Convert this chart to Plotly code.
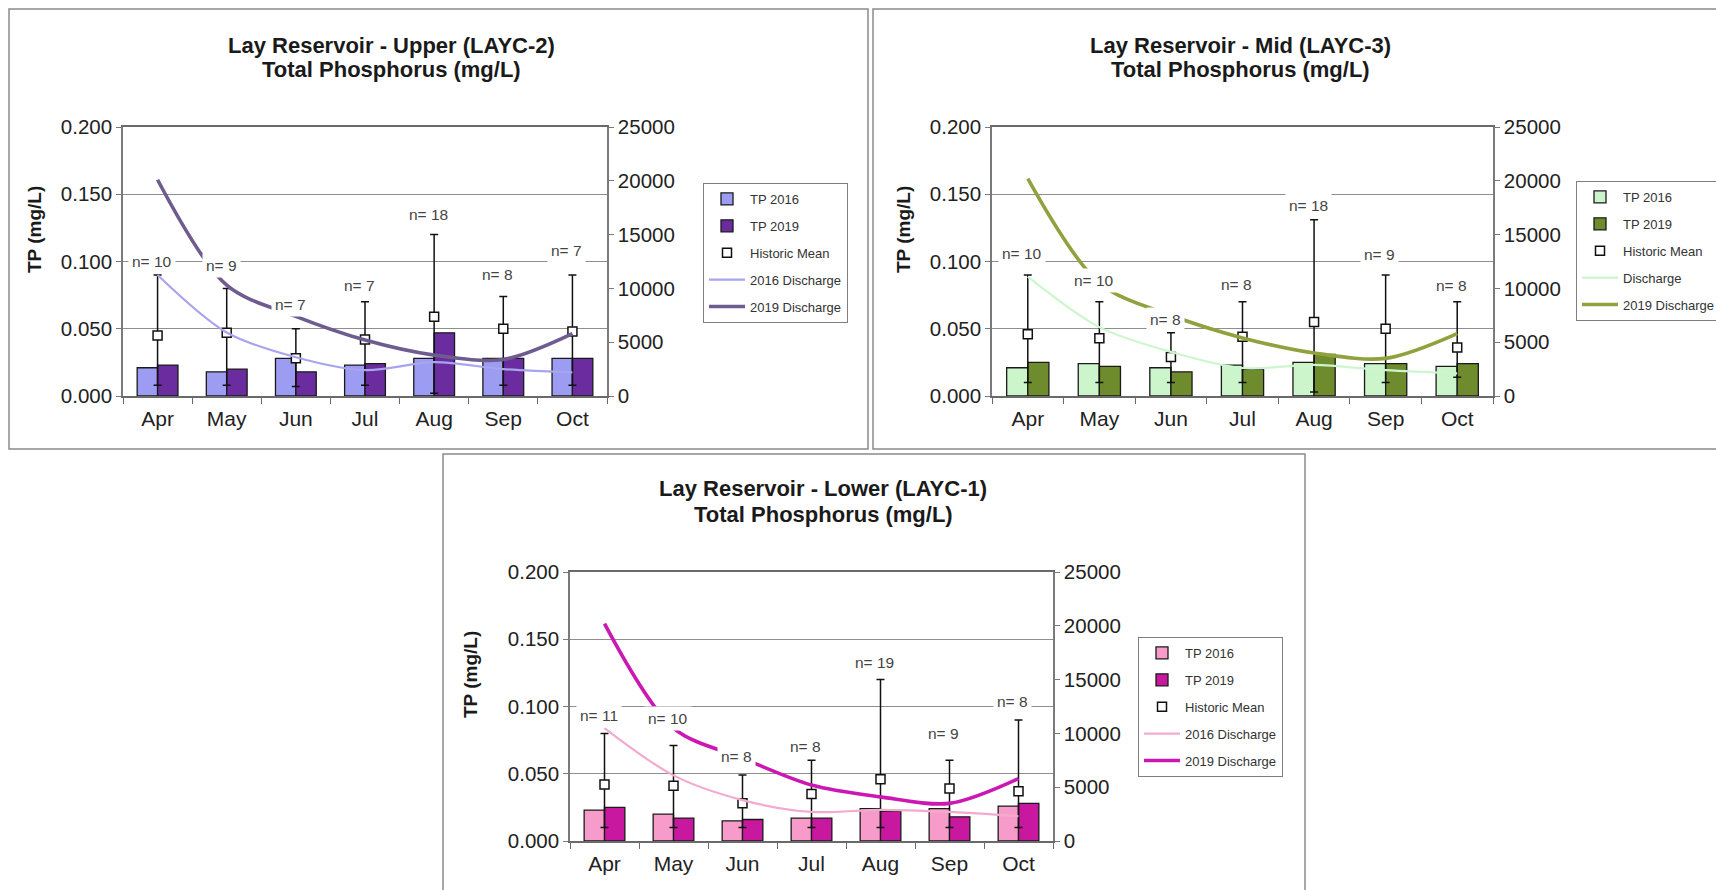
import plotly.graph_objects as go

W, H = 1716, 890
months = ["Apr", "May", "Jun", "Jul", "Aug", "Sep", "Oct"]

# ---------------- Upper (LAYC-2) ----------------
upper_tp2016 = [0.021, 0.018, 0.028, 0.023, 0.028, 0.028, 0.028]
upper_tp2019 = [0.023, 0.020, 0.018, 0.024, 0.047, 0.028, 0.028]
upper_hist_mean = [0.045, 0.047, 0.028, 0.042, 0.059, 0.050, 0.048]
upper_hist_max = [0.090, 0.080, 0.050, 0.070, 0.120, 0.074, 0.090]
upper_hist_min = [0.008, 0.008, 0.007, 0.008, 0.002, 0.008, 0.008]
upper_n = [10, 9, 7, 7, 18, 8, 7]
upper_n_label_y = [0.100, 0.097, 0.068, 0.082, 0.135, 0.090, 0.108]
upper_q2016 = [11250, 5900, 3600, 2400, 3150, 2500, 2200]
upper_q2019 = [20100, 10300, 7400, 5200, 3800, 3400, 5800]

# ---------------- Mid (LAYC-3) ----------------
mid_tp2016 = [0.021, 0.024, 0.021, 0.023, 0.025, 0.024, 0.022]
mid_tp2019 = [0.025, 0.022, 0.018, 0.020, 0.031, 0.024, 0.024]
mid_hist_mean = [0.046, 0.043, 0.029, 0.044, 0.055, 0.050, 0.036]
mid_hist_max = [0.090, 0.070, 0.047, 0.070, 0.131, 0.090, 0.070]
mid_hist_min = [0.010, 0.010, 0.010, 0.010, 0.003, 0.010, 0.014]
mid_n = [10, 10, 8, 8, 18, 9, 8]
mid_n_label_y = [0.106, 0.086, 0.057, 0.083, 0.142, 0.105, 0.082]
mid_q2016 = [11100, 6400, 4100, 2600, 2900, 2400, 2100]
mid_q2019 = [20200, 10500, 7500, 5400, 4000, 3500, 5800]

# ---------------- Lower (LAYC-1) ----------------
lower_tp2016 = [0.023, 0.020, 0.015, 0.017, 0.024, 0.024, 0.026]
lower_tp2019 = [0.025, 0.017, 0.016, 0.017, 0.022, 0.018, 0.028]
lower_hist_mean = [0.042, 0.041, 0.028, 0.035, 0.046, 0.039, 0.037]
lower_hist_max = [0.080, 0.071, 0.049, 0.060, 0.120, 0.060, 0.090]
lower_hist_min = [0.010, 0.010, 0.010, 0.010, 0.010, 0.010, 0.010]
lower_n = [11, 10, 8, 8, 19, 9, 8]
lower_n_label_y = [0.093, 0.091, 0.063, 0.070, 0.133, 0.080, 0.104]
lower_q2016 = [10500, 6100, 3800, 2700, 2900, 2700, 2300]
lower_q2019 = [20200, 10500, 7700, 5200, 4100, 3500, 5800]

tp_ticks = [0.0, 0.05, 0.10, 0.15, 0.20]
q_ticks = [0, 5000, 10000, 15000, 20000, 25000]

FONT = "Liberation Sans, Arial, sans-serif"


def px_x(p):
    return p / W


def px_y(p):
    return 1 - p / H


panels = [
    dict(
        title=["Lay Reservoir - Upper (LAYC-2)", "Total Phosphorus (mg/L)"],
        tp16=upper_tp2016, tp19=upper_tp2019, mean=upper_hist_mean,
        hmax=upper_hist_max, hmin=upper_hist_min, n=upper_n, ny=upper_n_label_y,
        q16=upper_q2016, q19=upper_q2019,
        q16_name="2016 Discharge", q19_name="2019 Discharge",
        c16="#9C9CF2", c19="#6A2C9E", cq16="#A8A4EE", cq19="#6E5B90",
        xdom=(123, 607), ydom=(396, 127),
        box=(9, 868, 9, 449), title_x=391, title_ys=(46, 70), ytitle_xy=(35, 230),
        legend_xy=(703, 183),
    ),
    dict(
        title=["Lay Reservoir - Mid (LAYC-3)", "Total Phosphorus (mg/L)"],
        tp16=mid_tp2016, tp19=mid_tp2019, mean=mid_hist_mean,
        hmax=mid_hist_max, hmin=mid_hist_min, n=mid_n, ny=mid_n_label_y,
        q16=mid_q2016, q19=mid_q2019,
        q16_name="Discharge", q19_name="2019 Discharge",
        c16="#CCF5CC", c19="#6E8B2E", cq16="#CDF6CD", cq19="#8FA23E",
        xdom=(992, 1493), ydom=(396, 127),
        box=(873, 1730, 9, 449), title_x=1240, title_ys=(46, 70), ytitle_xy=(904, 230),
        legend_xy=(1576, 181),
    ),
    dict(
        title=["Lay Reservoir - Lower (LAYC-1)", "Total Phosphorus (mg/L)"],
        tp16=lower_tp2016, tp19=lower_tp2019, mean=lower_hist_mean,
        hmax=lower_hist_max, hmin=lower_hist_min, n=lower_n, ny=lower_n_label_y,
        q16=lower_q2016, q19=lower_q2019,
        q16_name="2016 Discharge", q19_name="2019 Discharge",
        c16="#F79BCB", c19="#C8189F", cq16="#F3AACF", cq19="#CC18B2",
        xdom=(570, 1053), ydom=(841, 572),
        box=(443, 1305, 454, 900), title_x=823, title_ys=(488, 514), ytitle_xy=(470, 675),
        legend_xy=(1138, 637),
    ),
]

fig = go.Figure()
layout = dict(
    width=W, height=H,
    margin=dict(l=0, r=0, t=0, b=0, autoexpand=False),
    paper_bgcolor="white", plot_bgcolor="white",
    barmode="group", bargap=0.41, bargroupgap=0.0,
    font=dict(family=FONT, color="#222"),
    showlegend=True,
)
shapes = []
annotations = []

for i, p in enumerate(panels):
    xa = "x" if i == 0 else f"x{i+1}"
    ya = "y" if i == 0 else f"y{2*i+1}"
    yb = f"y{2*i+2}"
    xkey = "xaxis" if i == 0 else f"xaxis{i+1}"
    ykey = "yaxis" if i == 0 else f"yaxis{2*i+1}"
    ybkey = f"yaxis{2*i+2}"
    leg = "legend" if i == 0 else f"legend{i+1}"

    fig.add_trace(go.Bar(
        x=months, y=p["tp16"], name="TP 2016", xaxis=xa, yaxis=ya,
        marker=dict(color=p["c16"], line=dict(color="#1a1a1a", width=1.3)),
        legend=leg, legendgroup=f"p{i}a", offsetgroup=f"p{i}a",
    ))
    fig.add_trace(go.Bar(
        x=months, y=p["tp19"], name="TP 2019", xaxis=xa, yaxis=ya,
        marker=dict(color=p["c19"], line=dict(color="#1a1a1a", width=1.3)),
        legend=leg, legendgroup=f"p{i}b", offsetgroup=f"p{i}b",
    ))
    fig.add_trace(go.Scatter(
        x=months, y=p["mean"], name="Historic Mean", xaxis=xa, yaxis=ya,
        mode="markers",
        marker=dict(symbol="square", size=9, color="white",
                    line=dict(color="#111", width=1.5)),
        error_y=dict(type="data", symmetric=False,
                     array=[mx - m for mx, m in zip(p["hmax"], p["mean"])],
                     arrayminus=[m - mn for mn, m in zip(p["hmin"], p["mean"])],
                     color="#111", thickness=1.5, width=4),
        legend=leg, legendgroup=f"p{i}c",
    ))
    fig.add_trace(go.Scatter(
        x=months, y=p["q16"], name=p["q16_name"], xaxis=xa, yaxis=yb,
        mode="lines", line=dict(color=p["cq16"], width=2.2, shape="spline", smoothing=0.9),
        legend=leg, legendgroup=f"p{i}d",
    ))
    fig.add_trace(go.Scatter(
        x=months, y=p["q19"], name=p["q19_name"], xaxis=xa, yaxis=yb,
        mode="lines", line=dict(color=p["cq19"], width=3.6, shape="spline", smoothing=0.9),
        legend=leg, legendgroup=f"p{i}e",
    ))

    x0, x1 = p["xdom"]
    yb0, yt0 = p["ydom"]
    layout[xkey] = dict(
        domain=[px_x(x0), px_x(x1)], anchor=ya,
        type="category", categoryorder="array", categoryarray=months,
        showline=True, linecolor="#6a6a6a", linewidth=1.5, mirror=True,
        ticks="outside", tickson="boundaries", ticklen=6, tickcolor="#6a6a6a",
        ticklabelstandoff=3,
        tickfont=dict(size=21, color="#222", family=FONT),
        showgrid=False, zeroline=False, fixedrange=True,
    )
    layout[ykey] = dict(
        domain=[px_y(yb0), px_y(yt0)], anchor=xa,
        range=[0, 0.2], tickvals=tp_ticks, tickformat=".3f",
        showline=True, linecolor="#7a7a7a", linewidth=1.5,
        ticks="outside", ticklen=5, tickcolor="#7a7a7a",
        showgrid=True, gridcolor="#8e8e8e", gridwidth=1, zeroline=False,
        tickfont=dict(size=20.5, color="#222", family=FONT),
    )
    layout[ybkey] = dict(
        overlaying=ya, anchor=xa, side="right",
        range=[0, 25000], tickvals=q_ticks, tickformat="d",
        showline=True, linecolor="#7a7a7a", linewidth=1.5,
        ticks="outside", ticklen=5, tickcolor="#7a7a7a",
        showgrid=False, zeroline=False,
        tickfont=dict(size=20.5, color="#222", family=FONT),
    )
    lx, ly = p["legend_xy"]
    layout[leg] = dict(
        x=px_x(lx), y=px_y(ly), xanchor="left", yanchor="top",
        xref="paper", yref="paper",
        bgcolor="white", bordercolor="#7f7f7f", borderwidth=1,
        font=dict(size=13, color="#333", family=FONT),
        tracegroupgap=7, itemwidth=36, traceorder="grouped",
    )

    bx0, bx1, by0, by1 = p["box"]
    shapes.append(dict(type="rect", xref="paper", yref="paper",
                       x0=px_x(bx0), x1=px_x(bx1), y0=px_y(by1), y1=px_y(by0),
                       line=dict(color="#8a8a8a", width=1.5), layer="below"))

    for line_text, ty in zip(p["title"], p["title_ys"]):
        annotations.append(dict(text=f"<b>{line_text}</b>", xref="paper", yref="paper",
                                x=px_x(p["title_x"]), y=px_y(ty),
                                xanchor="center", yanchor="middle",
                                showarrow=False,
                                font=dict(size=22, color="#1a1a1a", family=FONT)))
    yx, yy = p["ytitle_xy"]
    annotations.append(dict(text="<b>TP (mg/L)</b>", xref="paper", yref="paper",
                            x=px_x(yx), y=px_y(yy), xanchor="center", yanchor="middle",
                            textangle=-90, showarrow=False,
                            font=dict(size=19, color="#1a1a1a", family=FONT)))
    for k, (nv, nyv) in enumerate(zip(p["n"], p["ny"])):
        annotations.append(dict(text=f"n= {nv}", xref=xa, yref=ya, x=k - 0.08, y=nyv,
                                showarrow=False, bgcolor="white", borderpad=3,
                                font=dict(size=15.5, color="#444", family=FONT)))

layout["shapes"] = shapes
layout["annotations"] = annotations
fig.update_layout(**layout)
fig.write_html("out.html")
